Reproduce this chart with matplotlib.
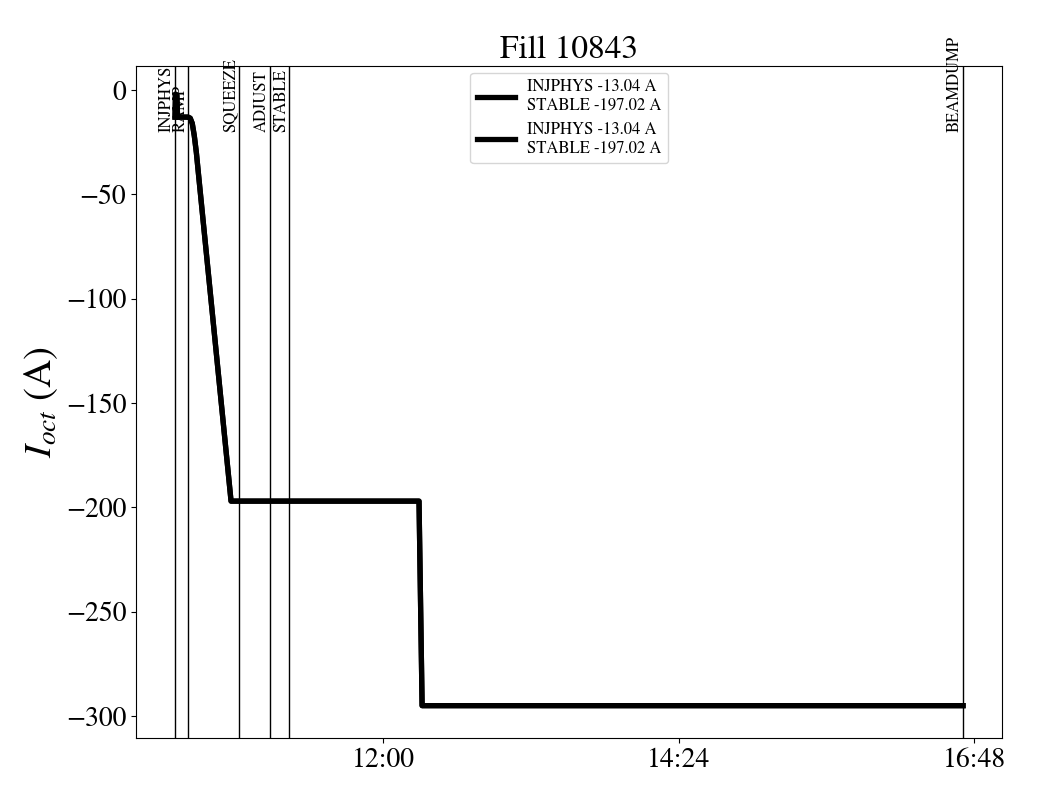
import matplotlib
matplotlib.use("Agg")
import matplotlib.pyplot as plt
import matplotlib.dates as mdates
from datetime import datetime

plt.rcParams['font.family'] = ['STIXGeneral', 'Liberation Serif', 'DejaVu Serif']
plt.rcParams['mathtext.fontset'] = 'stix'

day = "2025-07-01 "
times = ["10:18:36", "10:18:50", "10:19:30", "10:19:50", "10:25:00", "10:26:00",
         "10:27:00", "10:28:00", "10:29:00", "10:30:00", "10:45:54", "12:17:30",
         "12:19:00", "16:42:36"]
current = [-13.0, -2.0, -2.5, -13.0, -13.0, -13.5, -16.0, -22.0, -30.0, -40.0,
           -197.0, -197.0, -295.0, -295.0]

events = ["INJPHYS", "RAMP", "SQUEEZE", "ADJUST", "STABLE", "BEAMDUMP"]
event_times = ["10:18:36", "10:25:00", "10:49:50", "11:05:00", "11:14:10", "16:42:36"]

legend_label = "INJPHYS -13.04 A\nSTABLE -197.02 A"
title = "Fill 10843"
tick_times = ["12:00", "14:24", "16:48"]

def to_dt(t):
    fmt = "%Y-%m-%d %H:%M:%S" if t.count(":") == 2 else "%Y-%m-%d %H:%M"
    return datetime.strptime(day + t, fmt)

x = [to_dt(t) for t in times]

fig = plt.figure(figsize=(10.4, 8), dpi=100)
ax = fig.add_axes([0.1308, 0.0775, 0.8327, 0.84])

ax.plot(x, current, color='black', lw=3.8, label=legend_label)
ax.plot(x, current, color='black', lw=3.8, label=legend_label)

for name, et in zip(events, event_times):
    d = to_dt(et)
    ax.axvline(d, color='black', lw=1)
    ax.text(d, -20, name, rotation=90, ha='right', va='bottom', fontsize=12)

ax.set_xlim(to_dt("09:59:36"), to_dt("17:01:36"))
ax.set_ylim(-310.5, 11.5)
ax.set_xticks([to_dt(t) for t in tick_times])
ax.xaxis.set_major_formatter(mdates.DateFormatter('%H:%M'))
ax.set_yticks([0, -50, -100, -150, -200, -250, -300])
ax.tick_params(labelsize=20)
ax.set_ylabel(r"$I_{oct}$ (A)", fontsize=28)
ax.set_title(title, fontsize=24)
ax.legend(loc='upper center', fontsize=12, handlelength=2.3, handletextpad=0.7,
          bbox_to_anchor=(0.5, 1.0), borderaxespad=0.4)

fig.savefig("out.png", dpi=100)
